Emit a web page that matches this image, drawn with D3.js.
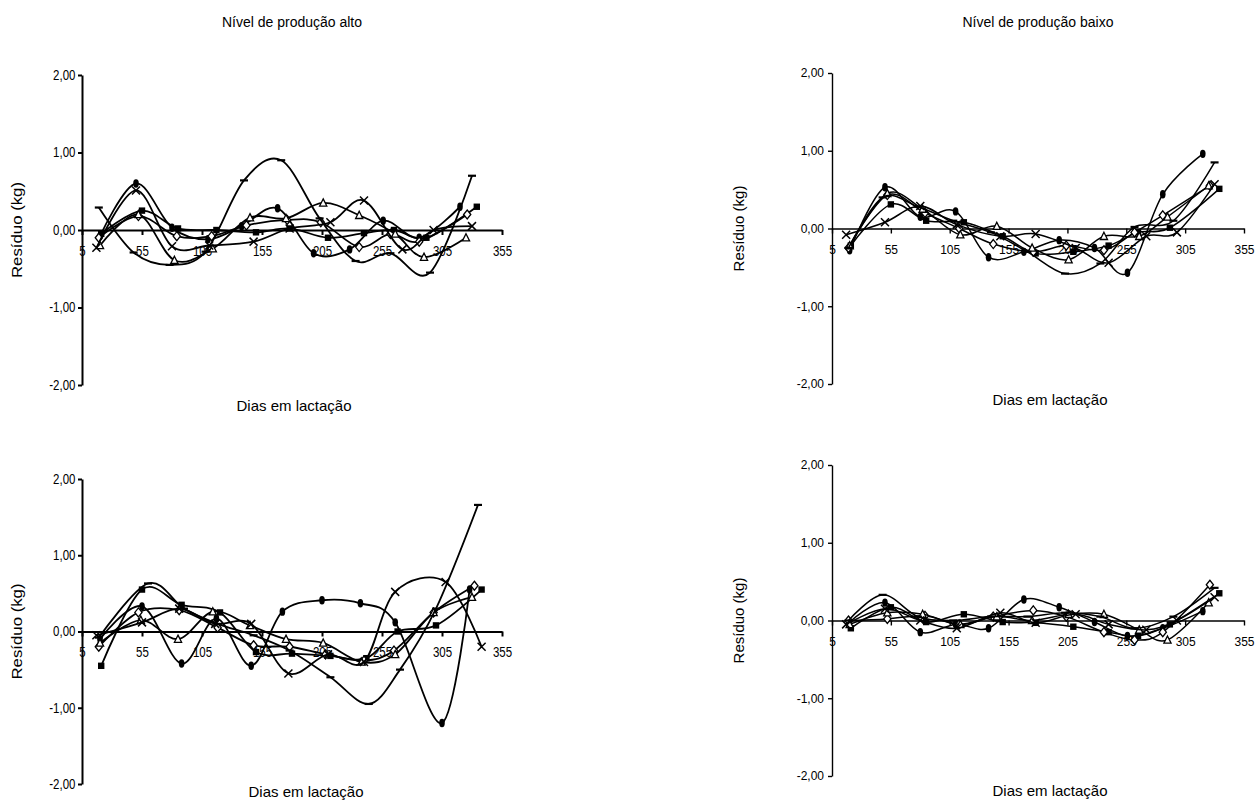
<!DOCTYPE html>
<html>
<head>
<meta charset="utf-8">
<script src="https://cdn.jsdelivr.net/npm/d3@7"></script>
<style>
body{margin:0;background:#fff;}
text{font-family:"Liberation Sans",Arial,sans-serif;fill:#000;}
</style>
</head>
<body>
<svg id="graph"></svg>
<script>
var width=1257, height=800;

// eixos
var diasTicks=[5,55,105,155,205,255,305,355];
var residuoTicks=[-2,-1,0,1,2];
var titulos=["Nível de produção alto","Nível de produção baixo"];

// ordem das séries: círculo, quadrado, losango, triângulo, cruz, traço
var marcadores=["circle","square","diamond","triangle","cross","dash"];

// dias de controle de cada série (gráficos de cima e baixo-direito)
var diasPadrao=[
  [20,50,80,110,138,168,198,228,256,286,320],
  [21,55,85,117,150,178,210,240,265,292,334],
  [19,52,84,113,142,176,204,236,262,286,326],
  [20,52,82,114,145,175,206,236,266,290,325],
  [17,50,80,111,148,178,212,240,272,298,330],
  [19,48,78,108,140,171,203,233,262,295,330]
];
// dias - alto, gráfico de baixo
var diasAltoB=[
  [20,55,88,117,146,172,205,237,266,305,328],
  [21,55,88,120,150,180,212,242,268,300,338],
  [19,52,86,118,148,178,208,240,265,298,332],
  [20,54,85,114,145,175,206,238,266,298,330],
  [17,55,86,116,146,177,210,240,266,308,338],
  [19,60,90,118,148,178,212,244,270,300,335]
];

// resíduos (kg) - alto, gráfico de cima
var residuoAltoA=[
  [-0.08, 0.60, 0.03,-0.12, 0.05, 0.28,-0.30,-0.25, 0.12,-0.10, 0.30],
  [-0.05, 0.25, 0.02, 0.00,-0.03, 0.02,-0.10,-0.04, 0.00,-0.10, 0.30],
  [-0.10, 0.18,-0.08,-0.08, 0.06, 0.13, 0.10,-0.22,-0.05,-0.15, 0.20],
  [-0.20, 0.20,-0.39,-0.24, 0.16, 0.15, 0.35, 0.19,-0.05,-0.35,-0.10],
  [-0.23, 0.51,-0.21,-0.20,-0.15, 0.02, 0.10, 0.38,-0.25, 0.00, 0.05],
  [ 0.29,-0.29,-0.45,-0.28, 0.64, 0.90, 0.15,-0.40,-0.30,-0.55, 0.70]
];
// baixo, gráfico de cima
var residuoBaixoA=[
  [-0.28, 0.53, 0.15, 0.22,-0.37,-0.30,-0.15,-0.25,-0.57, 0.44, 0.96],
  [-0.22, 0.31, 0.10, 0.08,-0.10,-0.32,-0.30,-0.22,-0.05, 0.01, 0.51],
  [-0.25, 0.43, 0.20, 0.00,-0.20,-0.30,-0.22,-0.28,-0.05, 0.17, 0.55],
  [-0.22, 0.45, 0.25,-0.08, 0.03,-0.25,-0.40,-0.10,-0.10, 0.15, 0.55],
  [-0.08, 0.08, 0.29, 0.05,-0.10,-0.07,-0.25,-0.44,-0.10,-0.05, 0.57],
  [-0.25, 0.40, 0.28, 0.10,-0.05,-0.30,-0.58,-0.45, 0.02, 0.10, 0.85]
];
// alto, gráfico de baixo
var residuoAltoB=[
  [-0.10, 0.33,-0.42, 0.17,-0.45, 0.26, 0.41, 0.37, 0.12,-1.20, 0.55],
  [-0.45, 0.55, 0.35, 0.25,-0.27,-0.29,-0.32,-0.35, 0.00, 0.08, 0.55],
  [-0.20, 0.25, 0.28, 0.05,-0.18,-0.20,-0.30,-0.38,-0.25, 0.25, 0.60],
  [-0.15, 0.15,-0.10, 0.26, 0.08,-0.10,-0.15,-0.40,-0.30, 0.25, 0.45],
  [-0.05, 0.12, 0.30, 0.10, 0.10,-0.55,-0.30,-0.40, 0.52, 0.65,-0.20],
  [-0.08, 0.63, 0.30, 0.10,-0.05,-0.25,-0.60,-0.95,-0.50, 0.30, 1.66]
];
// baixo, gráfico de baixo
var residuoBaixoB=[
  [-0.02, 0.23,-0.15,-0.05,-0.10, 0.27, 0.17,-0.02,-0.20,-0.10, 0.12],
  [-0.10, 0.17,-0.02, 0.08,-0.02,-0.03,-0.08,-0.15,-0.20,-0.05, 0.35],
  [ 0.00, 0.02, 0.06,-0.05, 0.05, 0.13, 0.05,-0.15,-0.25,-0.15, 0.46],
  [-0.05, 0.10, 0.08,-0.05, 0.05, 0.00, 0.08, 0.08,-0.12,-0.25, 0.23],
  [-0.05, 0.15, 0.00,-0.10, 0.10,-0.03, 0.08,-0.05,-0.12, 0.00, 0.30],
  [ 0.00, 0.33, 0.05, 0.00, 0.05, 0.05, 0.10, 0.05,-0.10, 0.05, 0.42]
];

var svg=d3.select("#graph")
          .attr("width",width)
          .attr("height",height);

var pt=d3.formatLocale({decimal:",",thousands:".",grouping:[3],currency:["",""],minus:"-"});
var fmt=pt.format(".2f");

// os gráficos da esquerda vêm com o texto mais estreito e os traços mais grossos
var paineis=[
  {dados:residuoAltoA, dias:diasPadrao, x0:82, x1:502, yt:75, yb:385, titulo:titulos[0], tx:292,
   xlab:411, xlx:294, ylab:17, esq:true},
  {dados:residuoBaixoA, dias:diasPadrao, x0:832, x1:1244, yt:73, yb:384, titulo:titulos[1], tx:1038,
   xlab:405, xlx:1050, ylab:739, esq:false},
  {dados:residuoAltoB, dias:diasAltoB, x0:82, x1:502, yt:479, yb:784, titulo:null,
   xlab:797, xlx:306, ylab:17, esq:true},
  {dados:residuoBaixoB, dias:diasPadrao, x0:832, x1:1244, yt:465, yb:776, titulo:null,
   xlab:796, xlx:1050, ylab:739, esq:false}
];

function drawPanel(p){
    var x=d3.scaleLinear().domain([5,355]).range([p.x0,p.x1]);
    var y=d3.scaleLinear().domain([-2,2]).range([p.yb,p.yt]);
    var g=svg.append("g");
    var eixoW=p.esq?2:1.4;
    var linhaW=p.esq?1.8:1.5;

    if(p.titulo){
        g.append("text")
         .attr("x",p.tx)
         .attr("y",27)
         .attr("text-anchor","middle")
         .attr("font-size","14px")
         .text(p.titulo);
    }

    // eixo y
    var ay=g.append("g")
            .attr("transform","translate("+p.x0+",0)")
            .call(d3.axisLeft(y).tickValues(residuoTicks).tickSize(4).tickSizeOuter(0).tickPadding(4).tickFormat(fmt));
    ay.selectAll("path,line").attr("stroke","#000").attr("stroke-width",eixoW);

    // eixo x no zero
    var ax=g.append("g")
            .attr("transform","translate(0,"+y(0)+")")
            .call(d3.axisBottom(x).tickValues(diasTicks).tickSize(5).tickSizeOuter(0).tickPadding(12).tickFormat(d3.format("d")));
    ax.selectAll("path,line").attr("stroke","#000").attr("stroke-width",eixoW);

    g.selectAll(".tick text")
     .attr("font-family","Liberation Sans, Arial, sans-serif")
     .attr("font-size",p.esq?"14px":"12px")
     .attr("transform",p.esq?"scale(0.82,1)":null);
    if(p.esq){
        ax.selectAll(".tick text").attr("dy","0.62em");
    }

    g.append("text")
     .attr("x",p.xlx)
     .attr("y",p.xlab)
     .attr("text-anchor","middle")
     .attr("font-size","15px")
     .text("Dias em lactação");

    g.append("text")
     .attr("transform","translate("+p.ylab+","+y(0)+") rotate(-90)"+(p.esq?" scale(1.12,1)":""))
     .attr("dy","0.35em")
     .attr("text-anchor","middle")
     .attr("font-size","15px")
     .text("Resíduo (kg)");

    var linha=d3.line()
                .x(d=>x(d[0]))
                .y(d=>y(d[1]))
                .curve(d3.curveCatmullRom.alpha(0));

    p.dados.forEach(function(vals,i){
        var pts=vals.map((v,j)=>[p.dias[i][j],v]);
        g.append("path")
         .datum(pts)
         .attr("fill","none")
         .attr("stroke","#000")
         .attr("stroke-width",linhaW)
         .attr("d",linha);

        var m=g.selectAll(null)
               .data(pts)
               .enter()
               .append("g")
               .attr("transform",d=>"translate("+x(d[0])+","+y(d[1])+")");
        drawMarker(m,marcadores[i]);
    });
}

function drawMarker(sel,tipo){
    if(tipo=="circle"){
        sel.append("ellipse").attr("rx",2.8).attr("ry",4.2).attr("fill","#000");
    }else if(tipo=="square"){
        sel.append("rect").attr("x",-3.2).attr("y",-3.2).attr("width",6.4).attr("height",6.4)
           .attr("fill","#000");
    }else if(tipo=="diamond"){
        sel.append("path").attr("d","M0,-4.5L3.6,0L0,4.5L-3.6,0Z")
           .attr("fill","#fff").attr("stroke","#000").attr("stroke-width",1.3);
    }else if(tipo=="triangle"){
        sel.append("path").attr("d","M0,-4L3.6,3.2L-3.6,3.2Z")
           .attr("fill","#fff").attr("stroke","#000").attr("stroke-width",1.3);
    }else if(tipo=="cross"){
        sel.append("path").attr("d","M-4,-4L4,4M-4,4L4,-4")
           .attr("stroke","#000").attr("stroke-width",1.5);
    }else{
        sel.append("line").attr("x1",-4).attr("x2",4)
           .attr("stroke","#000").attr("stroke-width",2.2);
    }
}

paineis.forEach(drawPanel);
</script>
</body>
</html>
